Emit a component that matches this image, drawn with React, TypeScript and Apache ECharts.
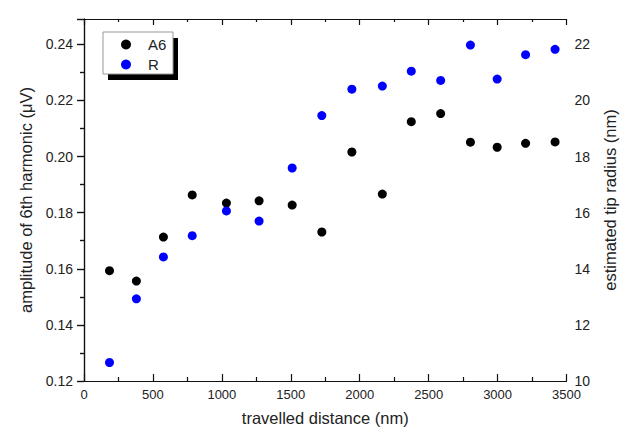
import React, { useEffect, useRef } from "react";
import * as echarts from "echarts";

const distance = [185, 380, 576, 785, 1033, 1270, 1510, 1725, 1943, 2164, 2374, 2587, 2803, 2997, 3203, 3417];
const a6Values = [0.1593, 0.1556, 0.1713, 0.1863, 0.1834, 0.1842, 0.1827, 0.1731, 0.2016, 0.1866, 0.2124, 0.2153, 0.2051, 0.2033, 0.2047, 0.2052];
const rValues = [10.66, 12.93, 14.42, 15.18, 16.06, 15.7, 17.59, 19.46, 20.4, 20.51, 21.04, 20.71, 21.97, 20.76, 21.63, 21.82];

const seriesNames = ["A6", "R"];
const xTitle = "travelled distance (nm)";
const yLeftTitle = "amplitude of 6th harmonic (\u03bcV)";
const yRightTitle = "estimated tip radius (nm)";

const FONT = "'Liberation Sans', Arial, sans-serif";
const AXIS_COLOR = "#111";
const LABEL_COLOR = "#222";

export default function App() {
  const ref = useRef<HTMLDivElement>(null);

  useEffect(() => {
    if (!ref.current) return;
    const chart = echarts.init(ref.current, null, { renderer: "svg" });

    const a6Data = distance.map((d, i) => [d, a6Values[i]]);
    const rData = distance.map((d, i) => [d, rValues[i]]);

    const axisLine = { show: true, lineStyle: { color: AXIS_COLOR, width: 1.2 } };
    const xLabelStyle = { color: LABEL_COLOR, fontSize: 13, fontFamily: FONT };
    const yLabelStyle = { color: LABEL_COLOR, fontSize: 14, fontFamily: FONT };
    const nameStyle = { color: LABEL_COLOR, fontSize: 16.5, fontFamily: FONT };

    chart.setOption({
      animation: false,
      backgroundColor: "#fff",
      grid: { left: 84, right: 49, top: 19, bottom: 51, containLabel: false },
      legend: {
        orient: "vertical",
        left: 121,
        top: 37,
        padding: 0,
        itemGap: 5,
        itemWidth: 34,
        itemHeight: 10,
        icon: "circle",
        z: 10,
        data: seriesNames,
        textStyle: { color: LABEL_COLOR, fontSize: 15, fontFamily: FONT },
      },
      graphic: [
        { type: "rect", z: 1, shape: { x: 108, y: 38, width: 70, height: 42 }, style: { fill: "#000" } },
        {
          type: "rect",
          z: 2,
          shape: { x: 103, y: 32, width: 70, height: 42 },
          style: { fill: "#fff", stroke: "#999", lineWidth: 1 },
        },
      ],
      xAxis: [
        {
          type: "value",
          position: "bottom",
          min: 0,
          max: 3500,
          interval: 500,
          name: xTitle,
          nameLocation: "middle",
          nameGap: 28,
          nameTextStyle: nameStyle,
          axisLine,
          axisTick: { show: true, inside: true, length: 7, lineStyle: { color: AXIS_COLOR, width: 1.2 } },
          minorTick: { show: true, splitNumber: 2, length: 4, lineStyle: { color: AXIS_COLOR, width: 1.2 } },
          axisLabel: { ...xLabelStyle, margin: 7, formatter: (v: number) => String(v) },
          splitLine: { show: false },
        },
        {
          type: "value",
          position: "top",
          min: 0,
          max: 3500,
          interval: 500,
          axisLine,
          axisTick: { show: true, inside: true, length: 6, lineStyle: { color: AXIS_COLOR, width: 1.2 } },
          minorTick: { show: true, splitNumber: 2, length: 3, lineStyle: { color: AXIS_COLOR, width: 1.2 } },
          axisLabel: { show: false },
          splitLine: { show: false },
        },
      ],
      yAxis: [
        {
          type: "value",
          position: "left",
          min: 0.12,
          max: 0.249,
          interval: 0.02,
          name: yLeftTitle,
          nameLocation: "middle",
          nameGap: 49,
          nameTextStyle: nameStyle,
          axisLine,
          axisTick: { show: true, inside: false, length: 7, lineStyle: { color: AXIS_COLOR, width: 1.2 } },
          minorTick: { show: true, splitNumber: 2, length: 4, lineStyle: { color: AXIS_COLOR, width: 1.2 } },
          axisLabel: {
            ...yLabelStyle,
            margin: 11,
            showMaxLabel: false,
            formatter: (v: number) => v.toFixed(2),
          },
          splitLine: { show: false },
        },
        {
          type: "value",
          position: "right",
          min: 10,
          max: 22.9,
          interval: 2,
          name: yRightTitle,
          nameLocation: "middle",
          nameGap: 33,
          nameTextStyle: nameStyle,
          axisLine,
          axisTick: { show: true, inside: true, length: 7, lineStyle: { color: AXIS_COLOR, width: 1.2 } },
          minorTick: { show: true, splitNumber: 2, length: 4, lineStyle: { color: AXIS_COLOR, width: 1.2 } },
          axisLabel: { ...yLabelStyle, margin: 8, showMaxLabel: false, formatter: (v: number) => String(v) },
          splitLine: { show: false },
        },
      ],
      series: [
        {
          name: seriesNames[0],
          type: "scatter",
          xAxisIndex: 0,
          yAxisIndex: 0,
          symbol: "circle",
          symbolSize: 9,
          itemStyle: { color: "#000", opacity: 1 },
          data: a6Data,
        },
        {
          name: seriesNames[1],
          type: "scatter",
          xAxisIndex: 0,
          yAxisIndex: 1,
          symbol: "circle",
          symbolSize: 9,
          itemStyle: { color: "#0000ff", opacity: 1 },
          data: rData,
        },
      ],
    });

    return () => chart.dispose();
  }, []);

  return <div ref={ref} style={{ width: 626, height: 432, position: "absolute", left: 0, top: 0 }} />;
}
